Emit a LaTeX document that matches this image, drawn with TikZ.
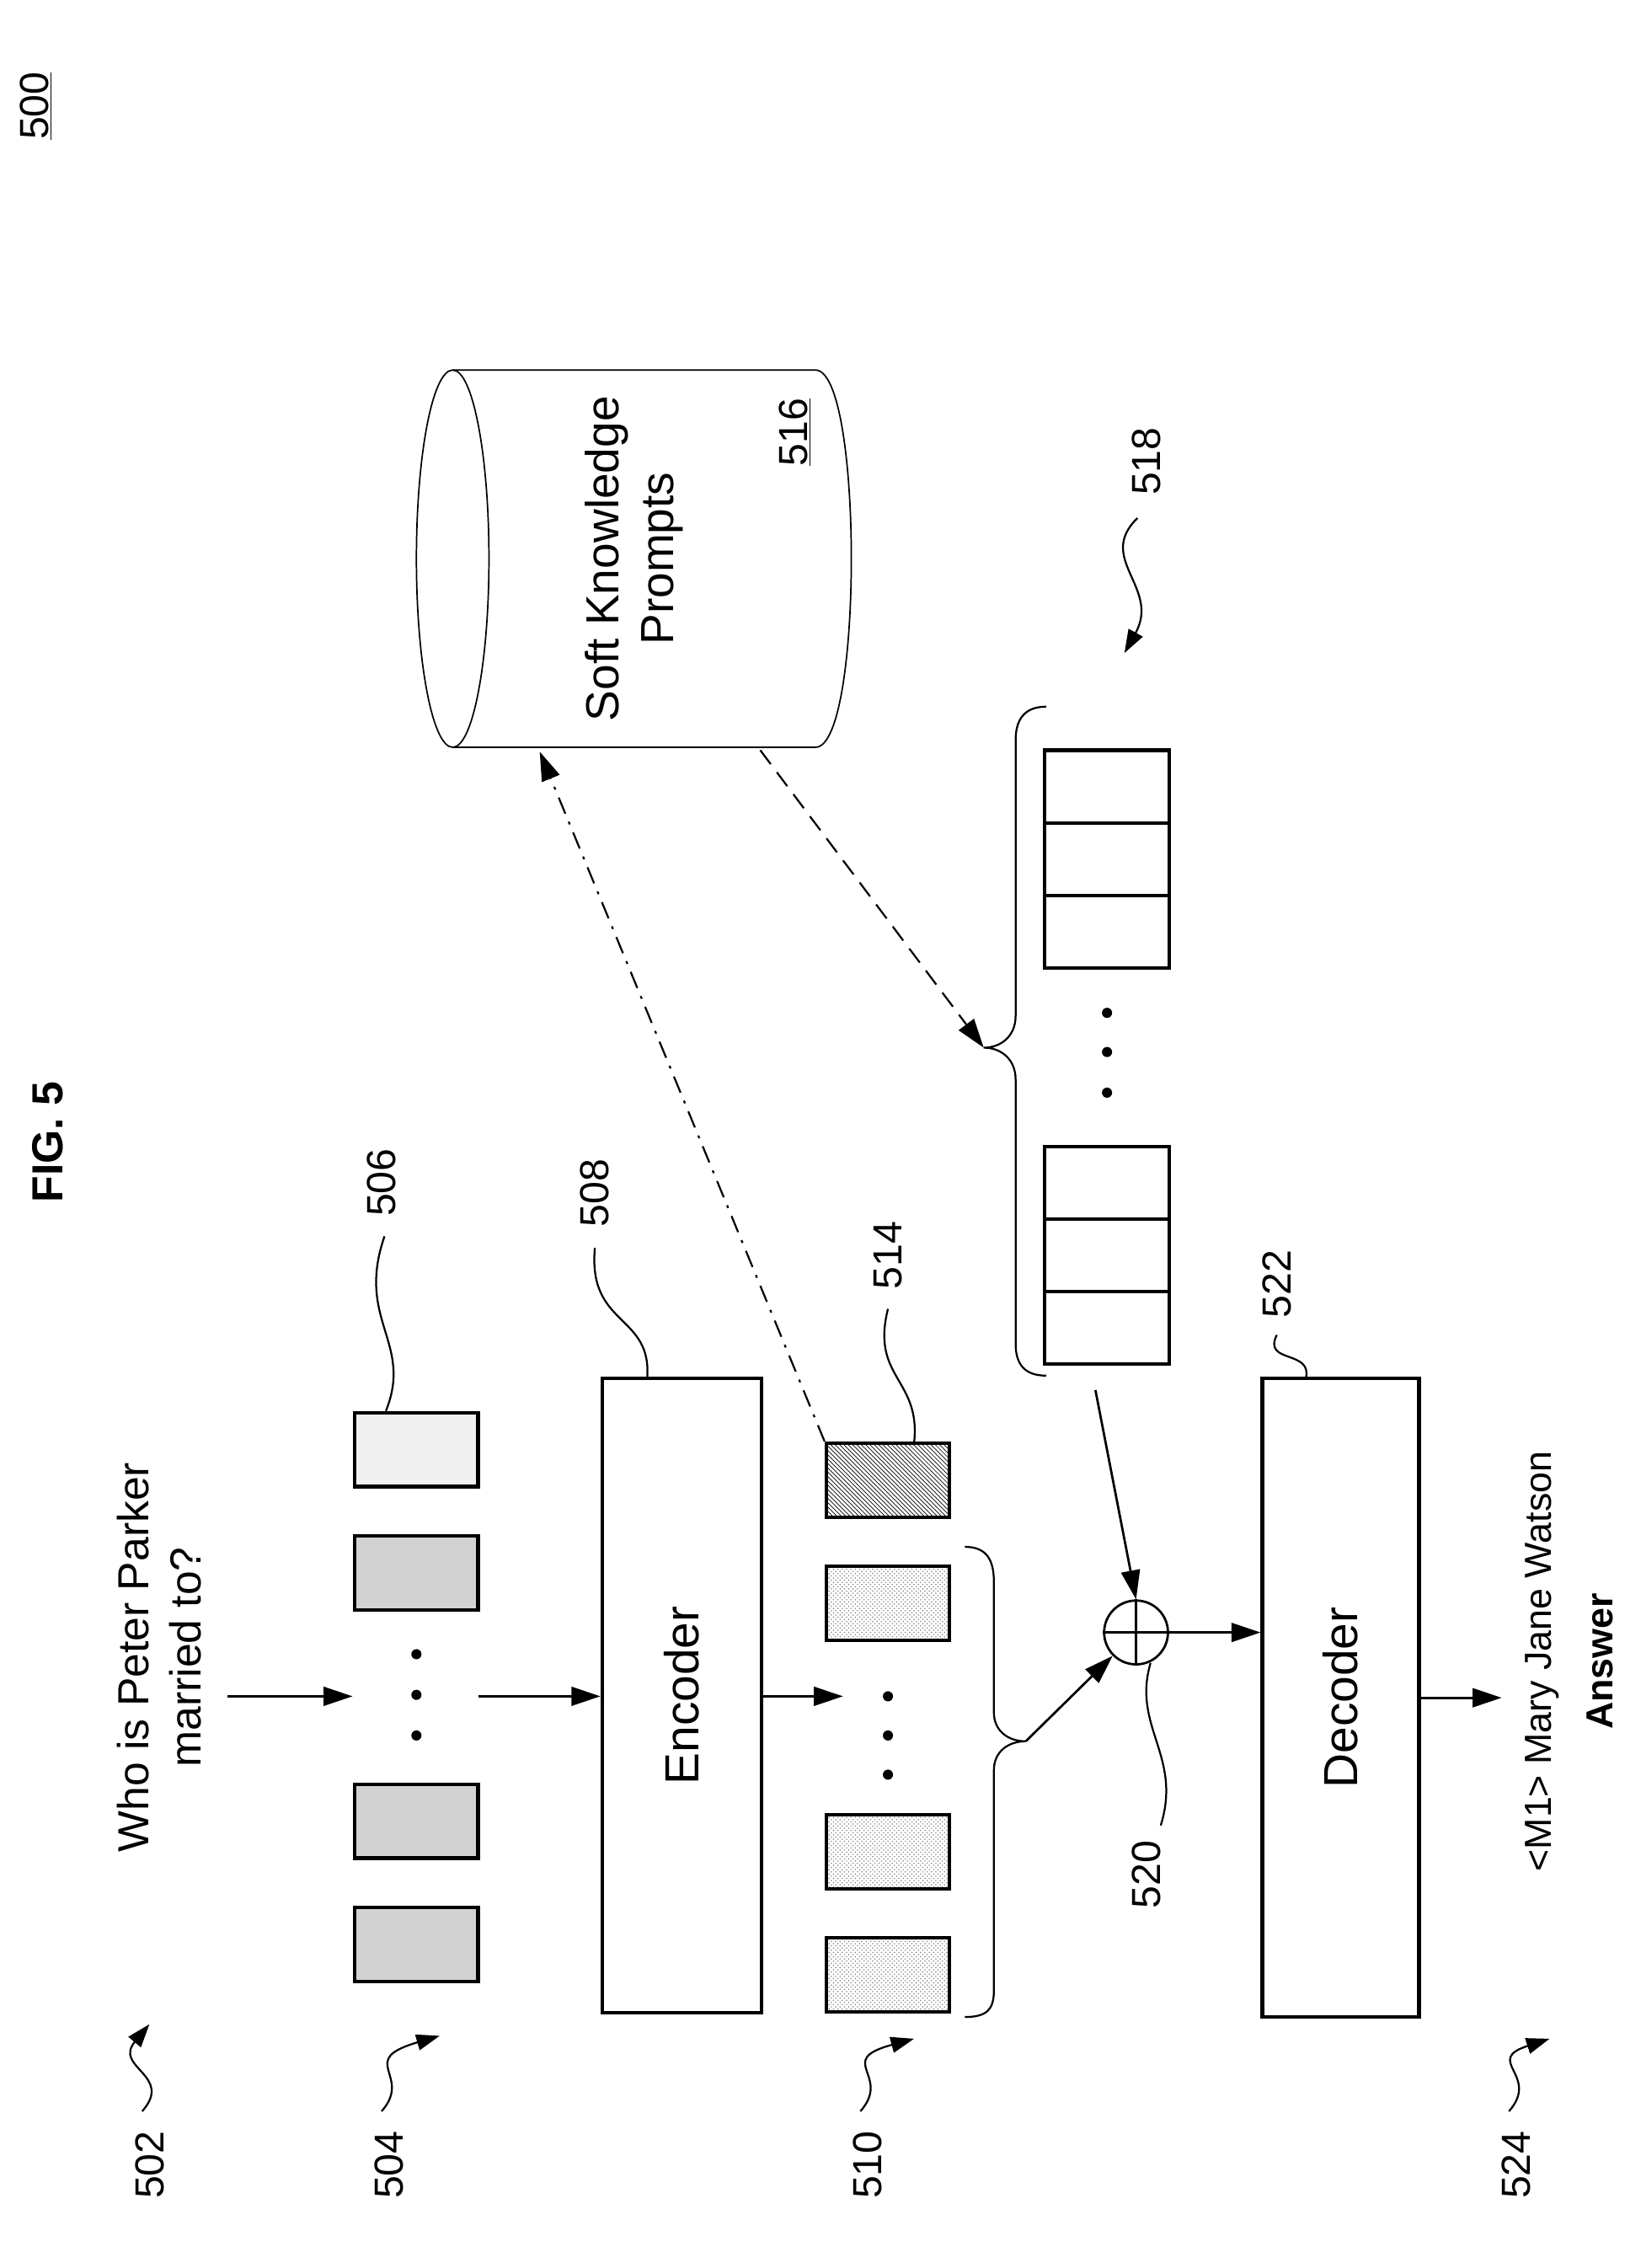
\documentclass[tikz,border=0pt]{standalone}
\usepackage{fontspec}
\setmainfont{Liberation Sans}
\usetikzlibrary{arrows.meta,patterns}
\begin{document}
\begin{tikzpicture}[x=1pt,y=-1pt,
  lab/.style={rotate=90,font=\fontsize{28}{32}\selectfont},
  big/.style={rotate=90,font=\fontsize{32}{38}\selectfont,align=center},
  tok/.style={draw,line width=2.4pt,minimum width=85pt,minimum height=51pt,inner sep=0pt},
  cell/.style={draw,line width=2.4pt,minimum width=86pt,minimum height=50pt,inner sep=0pt},
  box/.style={draw,line width=2.4pt,inner sep=0pt},
  arr/.style={line width=1.6pt,-{Triangle[length=20pt,width=13pt]}},
  lead/.style={line width=1.3pt},
  leadarr/.style={line width=1.3pt,-{Triangle[length=16pt,width=11pt]}},
  dotn/.style={circle,fill,inner sep=0pt,minimum size=7pt}
]
\useasboundingbox (0,0) rectangle (1131,1563);

% titles
\node[lab] (n500) at (25,73) {\underline{500}};
\node[rotate=90,font=\bfseries\fontsize{30}{34}\selectfont] (fig) at (33,787) {FIG. 5};

% question
\node[rotate=90,font=\fontsize{30}{36}\selectfont,align=center] (q) at (110,1142) {Who is Peter Parker\\married to?};
\coordinate (qa) at (157,1169);

% input tokens
\node[tok,fill=gray!12] (t1) at (287,999) {};
\node[tok,fill=gray!35] (t2) at (287,1084) {};
\node[dotn] (d1) at (287,1140) {};
\node[dotn] (d2) at (287,1168) {};
\node[dotn] (d3) at (287,1196) {};
\node[tok,fill=gray!35] (t3) at (287,1255) {};
\node[tok,fill=gray!35] (t4) at (287,1340) {};
\draw[arr] (qa) -- (243,1169) coordinate (ta);
\coordinate (tb) at (330,1169);

% encoder
\node[box,minimum width=110pt,minimum height=437pt] (enc) at (470,1168.5) {};
\node[rotate=90,font=\fontsize{33}{38}\selectfont] at (enc) {Encoder};
\draw[arr] (tb) -- (enc.west |- tb);
\draw[arr] (enc.east |- tb) -- (581,1169);

% output tokens
\node[tok,pattern=north west lines,pattern color=black] (o0) at (612,1020) {};
\node[tok,pattern=crosshatch dots,pattern color=gray] (o1) at (612,1105) {};
\node[dotn] (e1) at (612,1169) {};
\node[dotn] (e2) at (612,1196) {};
\node[dotn] (e3) at (612,1223) {};
\node[tok,pattern=crosshatch dots,pattern color=gray] (o2) at (612,1276) {};
\node[tok,pattern=crosshatch dots,pattern color=gray] (o3) at (612,1361) {};

% brace under outputs
\coordinate (b2tip) at (707,1200);
\draw[lead] (665,1066) .. controls (680,1066) and (685,1075) .. (685,1090) -- (685,1180)
  .. controls (685,1193) and (695,1200) .. (b2tip)
  .. controls (695,1200) and (685,1207) .. (685,1220) -- (685,1372)
  .. controls (685,1385) and (680,1390) .. (665,1390);

% oplus
\node[circle,draw,line width=1.6pt,minimum size=44pt,inner sep=0pt] (op) at (783,1125) {};
\draw[line width=1.6pt] (op.north) -- (op.south) (op.west) -- (op.east);
\draw[arr] (b2tip) -- (op.south west);

% cylinder
\coordinate (cylL) at (312,385);
\draw[line width=1pt] (cylL) ellipse [x radius=25, y radius=130];
\draw[line width=1pt] (312,255) -- (562,255) .. controls (595,255) and (595,515) .. (562,515) -- (312,515);
\node[big] (cyl) at (437,385) {Soft Knowledge\\Prompts};
\node[lab] (n516) at (548,298) {\underline{516}};
\coordinate (cylA) at (372,518);
\coordinate (cylB) at (524,517);

% prompt cells
\node[cell] (p1) at (763,542) {};
\node[cell] (p2) at (763,592) {};
\node[cell] (p3) at (763,642) {};
\node[dotn] (f1) at (763,698) {};
\node[dotn] (f2) at (763,725) {};
\node[dotn] (f3) at (763,753) {};
\node[cell] (p4) at (763,815) {};
\node[cell] (p5) at (763,865) {};
\node[cell] (p6) at (763,915) {};

% brace 518
\coordinate (b1tip) at (678,722);
\draw[lead] (721,487) .. controls (706,487) and (700,496) .. (700,510) -- (700,700)
  .. controls (700,714) and (690,722) .. (b1tip)
  .. controls (690,722) and (700,730) .. (700,744) -- (700,926)
  .. controls (700,940) and (706,948) .. (721,948);

% connectors to/from cylinder
\draw[line width=1.3pt,dash pattern=on 12pt off 6pt on 2pt off 6pt,-{Triangle[length=20pt,width=13pt]}] (o0.north west) -- (cylA);
\draw[line width=1.3pt,dash pattern=on 12pt off 7pt,-{Triangle[length=20pt,width=13pt]}] (cylB) -- (b1tip);
\coordinate (pb) at (755,958);
\draw[arr] (pb) -- (op.north);

% decoder
\node[box,minimum width=108pt,minimum height=440pt] (dec) at (924,1170) {};
\node[rotate=90,font=\fontsize{33}{38}\selectfont] at (dec) {Decoder};
\draw[arr] (op.east) -- (dec.west |- op.east);
\draw[arr] (dec.east |- 0,1170) -- (1035,1170) coordinate (ansa);
\node[rotate=90,font=\fontsize{26}{30}\selectfont] (ans) at (1063,1145) {<M1> Mary Jane Watson};
\node[rotate=90,font=\bfseries\fontsize{26}{30}\selectfont] (ansl) at (1103,1145) {Answer};

% reference labels with arrows
\node[lab] (n502) at (103,1492) {502};
\draw[leadarr] (98,1455) .. controls (120,1430) and (78,1425) .. (103,1395);
\node[lab] (n504) at (268,1492) {504};
\draw[leadarr] (263,1455) .. controls (285,1430) and (245,1420) .. (303,1403);
\node[lab] (n510) at (598,1492) {510};
\draw[leadarr] (593,1455) .. controls (615,1430) and (575,1420) .. (630,1405);
\node[lab] (n524) at (1045,1492) {524};
\draw[leadarr] (1040,1455) .. controls (1062,1430) and (1022,1420) .. (1068,1405);
\node[lab] (n518) at (790,318) {518};
\draw[leadarr] (784,357) .. controls (755,385) and (800,405) .. (775,450);

% reference labels with leaders
\node[lab] (n506) at (263,815) {506};
\draw[lead] (265,852) .. controls (245,910) and (285,925) .. (t1.north -| 266,0);
\node[lab] (n508) at (410,822) {508};
\draw[lead] (410,860) .. controls (405,915) and (450,905) .. (446,950.5);
\node[lab] (n514) at (612,865) {514};
\draw[lead] (612,902) .. controls (600,950) and (635,950) .. (630,994.5);
\node[lab] (n520) at (790,1292) {520};
\draw[lead] (793,1146) .. controls (780,1190) and (815,1210) .. (800,1258);
\node[lab] (n522) at (880,885) {522};
\draw[lead] (880,920) .. controls (870,940) and (905,930) .. (900,950);
\end{tikzpicture}
\end{document}
